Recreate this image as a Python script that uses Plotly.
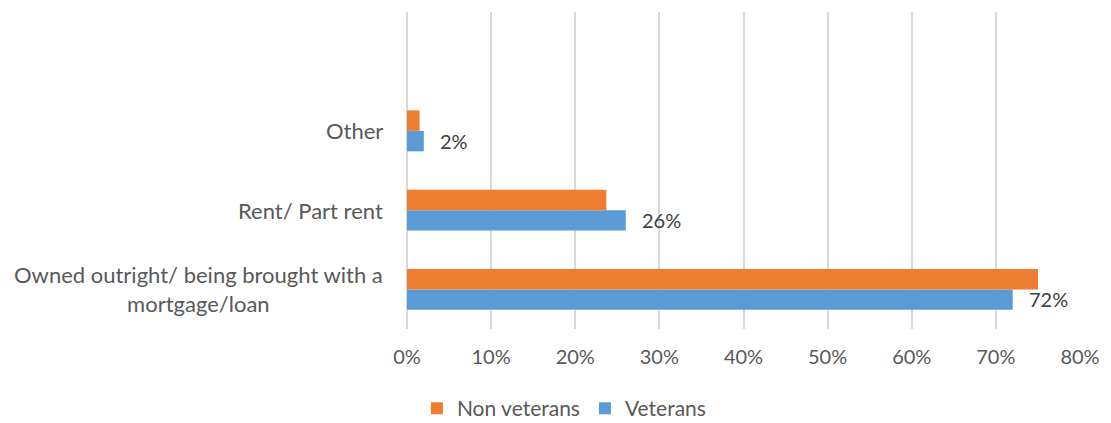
import plotly.graph_objects as go

# Housing tenure by veteran status (share of respondents)
categories = ["Owned outright/ being brought with a<br>mortgage/loan", "Rent/ Part rent", "Other"]
non_veterans = [0.75, 0.237, 0.015]
veterans = [0.72, 0.26, 0.02]
x_ticks = [0, 0.1, 0.2, 0.3, 0.4, 0.5, 0.6, 0.7, 0.8]
x_tick_labels = ["0%", "10%", "20%", "30%", "40%", "50%", "60%", "70%", "80%"]

FONT = "Lato"
ORANGE = "#ED7D31"
BLUE = "#5B9BD5"
GREY = "#595959"
GRID = "#D9D9D9"

fig = go.Figure()
# Veterans first so that it sits below Non veterans in each group
fig.add_trace(go.Bar(y=categories, x=veterans, name="Veterans", orientation="h",
                     marker=dict(color=BLUE, line=dict(width=0))))
fig.add_trace(go.Bar(y=categories, x=non_veterans, name="Non veterans", orientation="h",
                     marker=dict(color=ORANGE, line=dict(width=0))))

# value labels for the Veterans series
for cat, v in zip(categories, veterans):
    fig.add_annotation(x=v, y=cat, xref="x", yref="y", text=f"{round(v * 100)}%",
                       showarrow=False, xanchor="left", xshift=14, yshift=-10,
                       font=dict(family=FONT, size=20, color="#404040"))

# category labels, centred multi-line text to the left of the plot
for cat in categories:
    fig.add_annotation(x=0, y=cat, xref="paper", yref="y", text=cat,
                       showarrow=False, xanchor="right", xshift=-22, align="center",
                       font=dict(family=FONT, size=22, color=GREY))

fig.update_layout(
    width=1111, height=423,
    margin=dict(l=407, r=31, t=12, b=94),
    paper_bgcolor="white", plot_bgcolor="white",
    barmode="group", bargap=0.483, bargroupgap=0,
    font=dict(family=FONT, size=20, color=GREY),
    legend=dict(orientation="h", traceorder="reversed",
                xref="container", yref="container", x=0.508, y=0.034,
                xanchor="center", yanchor="middle",
                font=dict(family=FONT, size=21, color=GREY)),
    xaxis=dict(range=[0, 0.8], tickvals=x_ticks, ticktext=x_tick_labels,
               showgrid=True, gridcolor=GRID, gridwidth=1.5,
               zeroline=True, zerolinecolor=GRID, zerolinewidth=1.5, showline=False,
               ticks="outside", ticklen=10, tickcolor="rgba(0,0,0,0)",
               tickfont=dict(family=FONT, size=20, color=GREY), fixedrange=True),
    yaxis=dict(type="category", categoryorder="array", categoryarray=categories,
               range=[-0.5, 3.5], showticklabels=False, showgrid=False,
               zeroline=False, showline=False, fixedrange=True),
)

fig.write_html("out.html")
